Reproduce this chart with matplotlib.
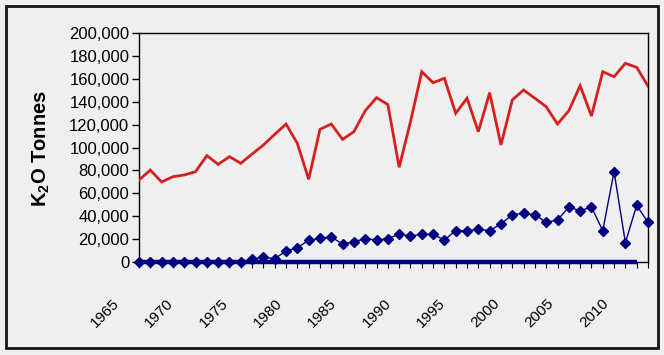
import matplotlib
matplotlib.use("Agg")
import matplotlib.pyplot as plt
import matplotlib.transforms as mtransforms
from matplotlib.patches import Rectangle

plt.rcParams['font.family'] = ['Liberation Sans', 'DejaVu Sans']
plt.rcParams['mathtext.fontset'] = 'custom'
plt.rcParams['mathtext.rm'] = 'Liberation Sans'
plt.rcParams['mathtext.bf'] = 'Liberation Sans:bold'

years = list(range(1965, 2011))
series_red = [71600, 80300, 69900, 74500, 76000, 78900, 92900, 85300, 92000, 86200,
              94300, 102200, 111500, 120500, 103600, 72200, 115900, 120500, 107100, 113800,
              132100, 143500, 137500, 82700, 122500, 166200, 156600, 160400, 129900, 143000,
              113800, 147900, 102200, 141500, 150200, 143000, 135600, 120500, 132100, 154000,
              127500, 166200, 161800, 173500, 170000, 153700]
series_blue = [0, 0, 0, 0, 0, 0, 0, 0, 0, 0,
               2600, 4100, 3000, 9500, 12500, 19000, 20700, 21800, 15700, 17700,
               20400, 19200, 20400, 24200, 22700, 24200, 24200, 19200, 27400, 27400,
               28500, 27400, 33200, 41300, 42500, 41300, 34600, 36700, 48000, 44800,
               48000, 27400, 78900, 16900, 49500, 34600]
series_base = [0] * 45
base_years = years[:45]
label_years = list(range(1965, 2011, 5))
yticks = list(range(0, 200001, 20000))

bg = '#EFEFEF'
fig = plt.figure(figsize=(6.64, 3.55), dpi=100, facecolor=bg)
ax = fig.add_axes([139/664, 1-262/355, (648-139)/664, (262-33)/355])
ax.set_facecolor(bg)

ax.plot(years, series_red, color='#D62020', lw=2.0, solid_joinstyle='miter', zorder=3)
ax.plot(base_years, series_base, color='#000080', lw=3.2, solid_capstyle='butt', zorder=4, clip_on=False)
ax.plot(years, series_blue, color='#000080', lw=1.0, marker='D', ms=5.3,
        markerfacecolor='#000080', markeredgecolor='#000080', zorder=5, clip_on=False)

ax.set_xlim(1965, 2010)
ax.set_ylim(0, 200000)
ax.set_yticks(yticks)
ax.set_yticklabels([f"{v:,}" for v in yticks], fontsize=12)
ax.tick_params(axis='y', direction='out', length=5, width=1, pad=2, colors='black')

ax.set_xticks(years)
ax.set_xticklabels([])
ax.tick_params(axis='x', direction='out', length=4, width=0.8)

for s in ax.spines.values():
    s.set_color('black')
    s.set_linewidth(1.0)

# x labels
off = mtransforms.ScaledTranslation(0, -34/100, fig.dpi_scale_trans)
trans = mtransforms.blended_transform_factory(ax.transData, ax.transAxes) + off
for i, y in enumerate(label_years):
    pos = y - 2.4 - (y - 1965) * 0.0385
    ax.text(pos, 0, str(y), transform=trans, rotation=45, ha='right', va='top',
            rotation_mode='anchor', fontsize=11, clip_on=False)

fig.text(41/664, 1-148/355, r'$\mathbf{K_2O}$' + ' Tonnes', rotation=90, ha='center', va='center',
         fontsize=14.5, fontweight='bold')

fig.patches.append(Rectangle((6/664, 1-348/355), (658-6)/664, (348-6)/355,
                             transform=fig.transFigure, fill=False, edgecolor='#151515', lw=2.0))

fig.savefig('out.png', dpi=100, facecolor=bg)
